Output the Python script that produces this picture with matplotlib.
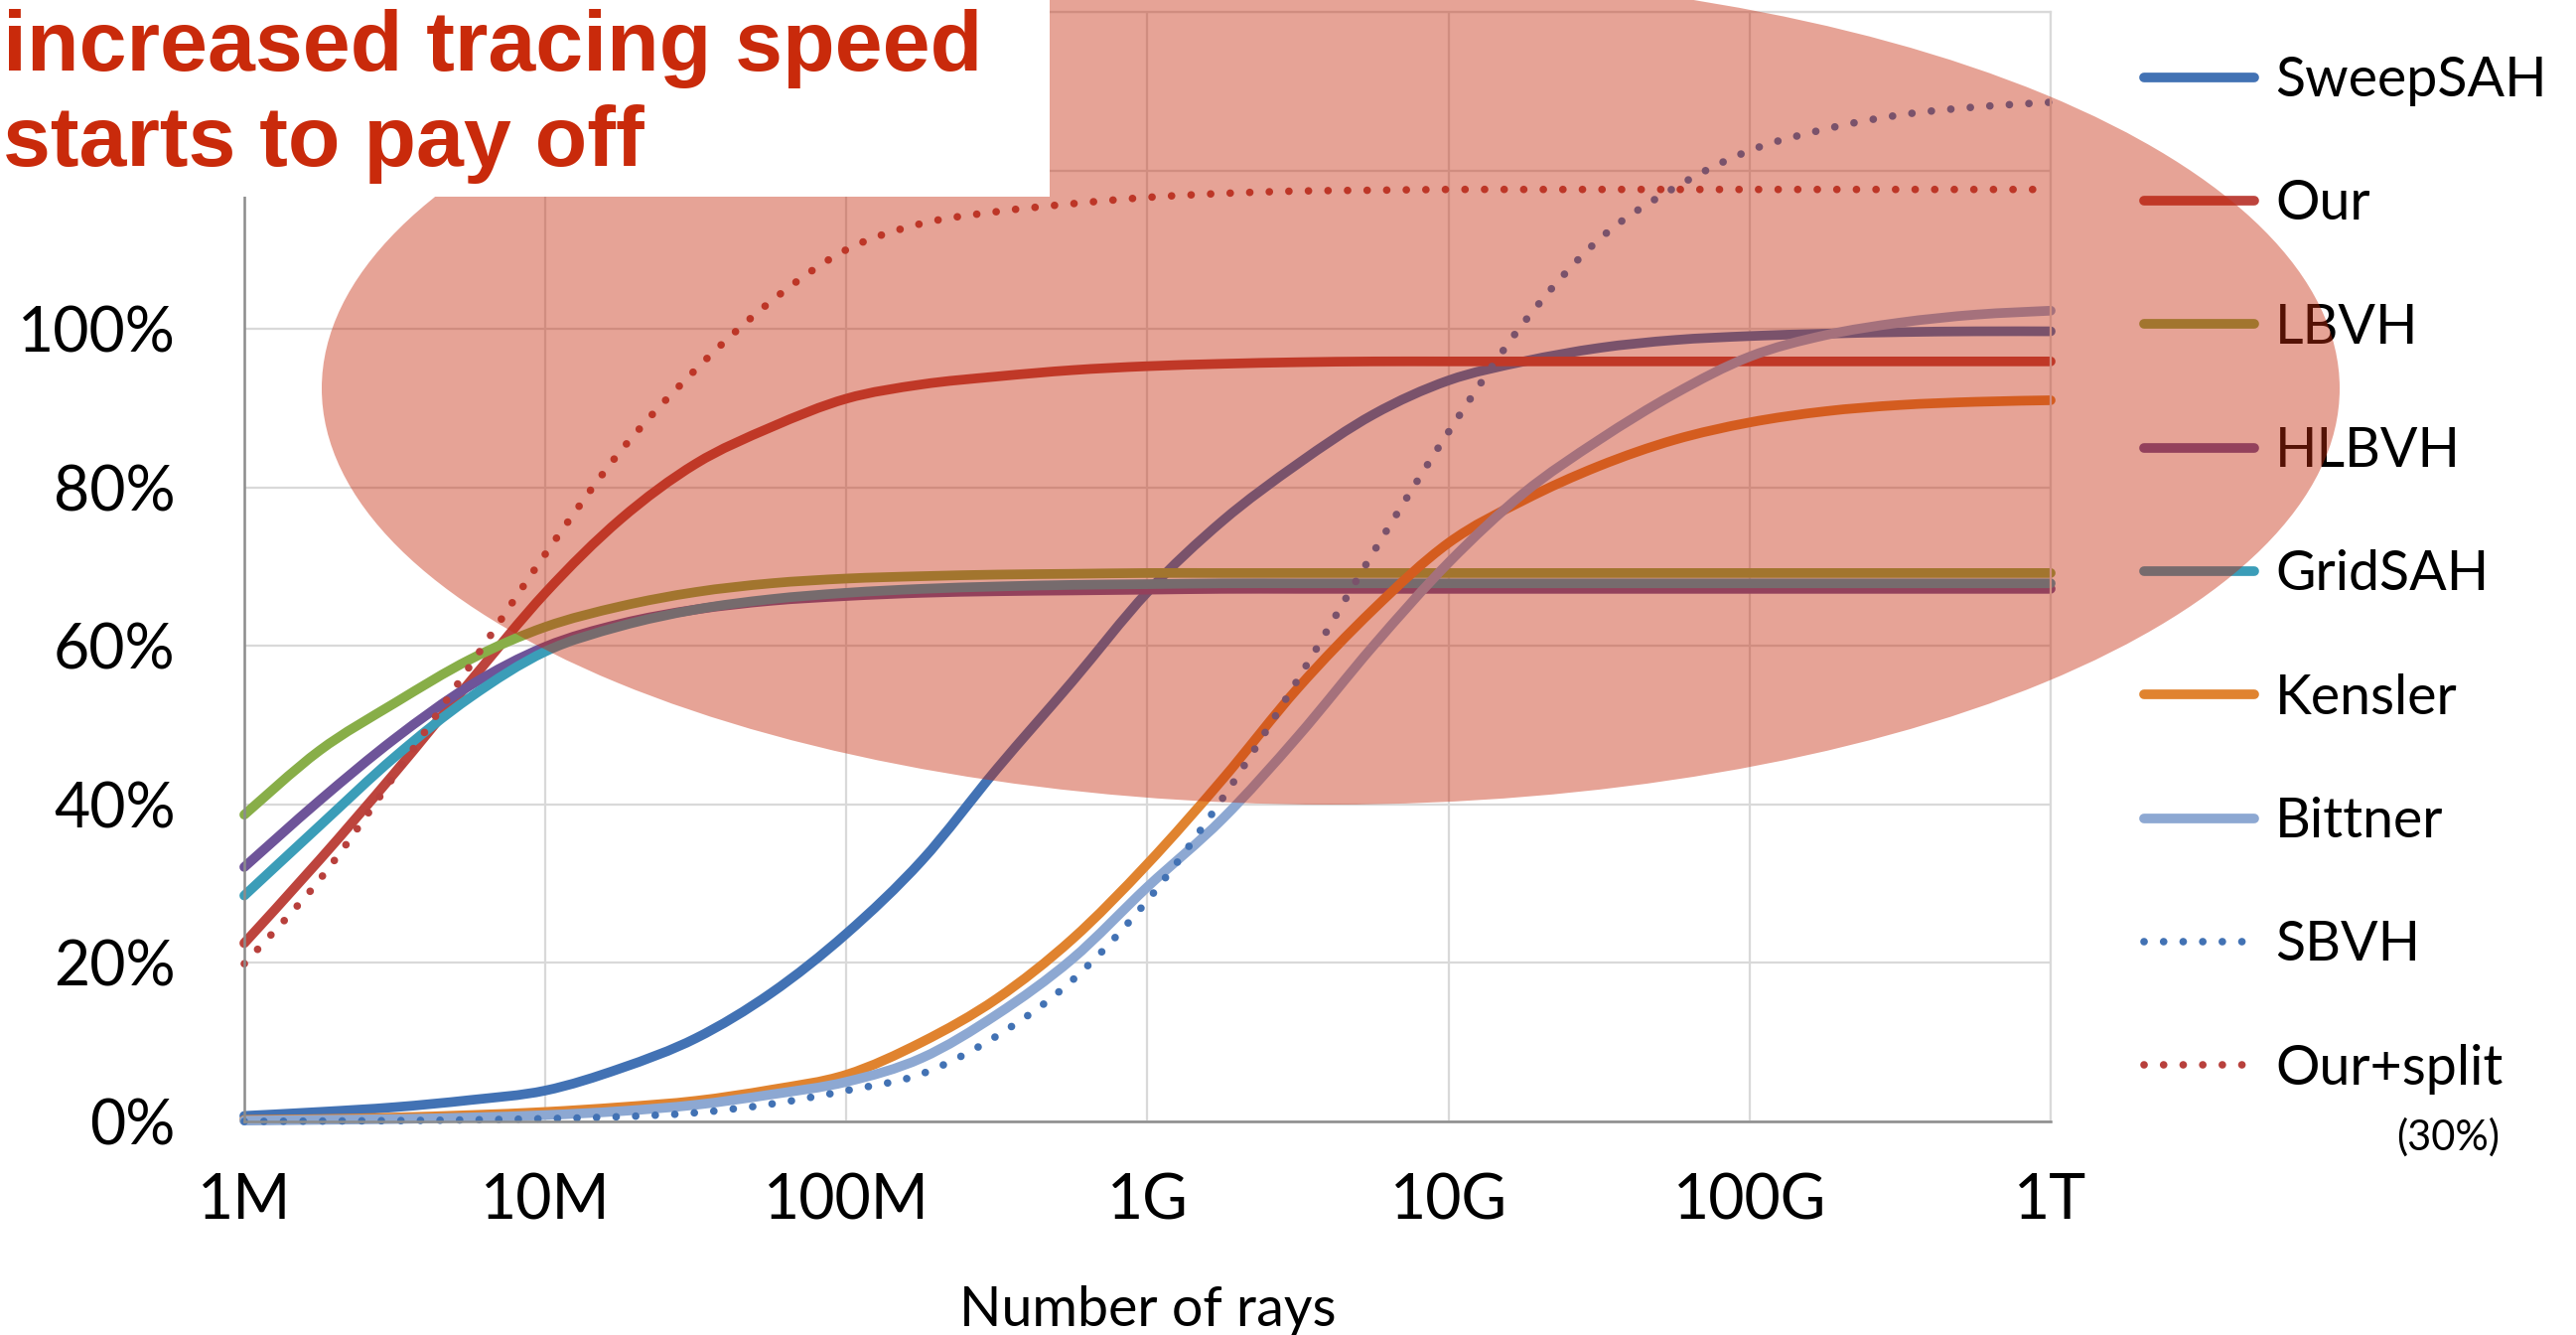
import matplotlib.pyplot as plt
from matplotlib.patches import Ellipse, Rectangle, PathPatch
from matplotlib.path import Path
from matplotlib.lines import Line2D

plt.rcParams['font.family'] = ['Lato', 'DejaVu Sans']

# sample positions (log10 of number of rays)
exps = [6.0, 6.25, 6.5, 6.75, 7.0, 7.25, 7.5, 7.75, 8.0, 8.25, 8.5, 8.75,
        9.0, 9.25, 9.5, 9.75, 10.0, 10.25, 10.5, 10.75, 11.0, 11.25, 11.5, 11.75, 12.0]

# values in percent
sweepsah = [0.7, 1.2, 1.8, 2.7, 3.9, 6.7, 10.5, 16.2, 23.7, 32.9, 44.5, 55.5,
            66.8, 75.8, 83.0, 89.2, 93.5, 95.9, 97.6, 98.6, 99.1, 99.4, 99.6, 99.7, 99.7]
our = [22.5, 33.0, 44.0, 55.5, 66.7, 76.0, 83.0, 87.6, 91.2, 93.0, 94.0, 94.8,
       95.3, 95.6, 95.8, 95.9, 95.9, 95.9, 95.9, 95.9, 95.9, 95.9, 95.9, 95.9, 95.9]
lbvh = [38.7, 46.8, 52.8, 58.3, 62.4, 65.0, 66.8, 67.9, 68.5, 68.8, 69.0, 69.1,
        69.2, 69.2, 69.2, 69.2, 69.2, 69.2, 69.2, 69.2, 69.2, 69.2, 69.2, 69.2, 69.2]
hlbvh = [32.1, 40.5, 48.3, 55.0, 59.9, 62.8, 64.6, 65.7, 66.3, 66.7, 66.9, 67.0,
         67.1, 67.2, 67.2, 67.2, 67.2, 67.2, 67.2, 67.2, 67.2, 67.2, 67.2, 67.2, 67.2]
gridsah = [28.5, 37.3, 46.0, 53.5, 59.3, 62.5, 64.6, 65.9, 66.7, 67.2, 67.5, 67.7,
           67.8, 67.9, 67.9, 67.9, 67.9, 67.9, 67.9, 67.9, 67.9, 67.9, 67.9, 67.9, 67.9]
kensler = [0.2, 0.3, 0.5, 0.8, 1.2, 1.8, 2.6, 4.0, 5.9, 10.0, 15.5, 23.0,
           32.5, 43.2, 54.7, 64.6, 73.0, 78.4, 82.7, 86.0, 88.2, 89.6, 90.4, 90.8, 91.0]
bittner = [0.1, 0.2, 0.3, 0.5, 0.8, 1.3, 2.1, 3.4, 5.0, 8.0, 13.5, 20.5,
           29.6, 38.2, 48.6, 60.0, 70.5, 79.3, 86.0, 91.8, 96.5, 99.2, 100.8, 101.8, 102.3]
sbvh = [0.0, 0.05, 0.1, 0.2, 0.35, 0.6, 1.1, 2.2, 3.9, 6.0, 10.8, 17.8,
        27.9, 40.8, 55.8, 71.8, 87.0, 100.8, 111.3, 117.8, 122.5, 125.2, 127.0, 128.0, 128.6]
our_split = [19.9, 30.5, 43.7, 57.5, 71.6, 84.6, 94.9, 103.5, 110.0, 113.3, 114.8, 115.8,
             116.6, 117.1, 117.4, 117.5, 117.6, 117.6, 117.6, 117.6, 117.6, 117.6, 117.6, 117.6, 117.6]

tick_exps = [6, 7, 8, 9, 10, 11, 12]
tick_labels = ['1M', '10M', '100M', '1G', '10G', '100G', '1T']
y_ticks = [0, 20, 40, 60, 80, 100, 120, 140]
y_labels = ['0%', '20%', '40%', '60%', '80%', '100%', '', '']

series = [
    ('SweepSAH', sweepsah, '#4272B4', False),
    ('Our', our, '#BD443D', False),
    ('LBVH', lbvh, '#88AE48', False),
    ('HLBVH', hlbvh, '#6E5499', False),
    ('GridSAH', gridsah, '#3B9DB8', False),
    ('Kensler', kensler, '#E0832F', False),
    ('Bittner', bittner, '#8DA8D2', False),
    ('SBVH', sbvh, '#4272B4', True),
    ('Our+split', our_split, '#B8403C', True),
]

DOTS = (0, (0.01, 2.57))


def smooth_path(xs, ys):
    # Excel style "smoothed line": catmull-rom segments as cubic beziers
    pts = list(zip(xs, ys))
    n = len(pts)
    verts = [pts[0]]
    codes = [Path.MOVETO]
    for i in range(n - 1):
        p0 = pts[max(i - 1, 0)]
        p1 = pts[i]
        p2 = pts[i + 1]
        p3 = pts[min(i + 2, n - 1)]
        c1 = (p1[0] + (p2[0] - p0[0]) / 6, p1[1] + (p2[1] - p0[1]) / 6)
        c2 = (p2[0] - (p3[0] - p1[0]) / 6, p2[1] - (p3[1] - p1[1]) / 6)
        verts += [c1, c2, p2]
        codes += [Path.CURVE4] * 3
    return Path(verts, codes)


W, H = 2594, 1344
fig = plt.figure(figsize=(W / 100, H / 100), dpi=100)
ax = fig.add_axes([246 / W, 1 - 1129 / H, (2065 - 246) / W, (1129 - 12) / H])

handles = []
for name, vals, col, dotted in series:
    if dotted:
        patch = PathPatch(smooth_path(exps, vals), facecolor='none', edgecolor=col,
                          lw=5.5, linestyle=DOTS, capstyle='round', clip_on=False)
        h = Line2D([], [], color=col, lw=5.5, linestyle=DOTS, dash_capstyle='round')
    else:
        patch = PathPatch(smooth_path(exps, vals), facecolor='none', edgecolor=col,
                          lw=7, capstyle='round', joinstyle='round', clip_on=False)
        h = Line2D([], [], color=col, lw=7, solid_capstyle='round')
    ax.add_patch(patch)
    handles.append(h)

ax.set_xlim(6, 12)
ax.set_ylim(0, 140)
ax.set_xticks(tick_exps)
ax.set_xticklabels(tick_labels)
ax.set_yticks(y_ticks)
ax.set_yticklabels(y_labels)
ax.tick_params(axis='both', length=0, labelsize=45)
ax.tick_params(axis='x', pad=37)
ax.tick_params(axis='y', pad=50)

ax.grid(True, color='#D9D9D9', lw=1.6)
ax.set_axisbelow(True)
for side in ['top', 'right']:
    ax.spines[side].set_color('#D9D9D9')
    ax.spines[side].set_linewidth(1.6)
for side in ['left', 'bottom']:
    ax.spines[side].set_color('#8C8C8C')
    ax.spines[side].set_linewidth(1.8)

ax.set_xlabel('Number of rays', fontsize=40, labelpad=40)

ax.legend(handles, [s[0] for s in series], loc='upper left',
          bbox_to_anchor=(2159 / W, 1 - 56 / H), bbox_transform=fig.transFigure,
          frameon=False, borderpad=0, borderaxespad=0, handlelength=2.0,
          handletextpad=0.38, labelspacing=1.32, fontsize=40)
fig.text(2465 / W, 1 - 1145 / H, '(30%)', ha='center', va='center', fontsize=30)

# highlight ellipse over the plateau region
ell = Ellipse((1340 / W, 1 - 391 / H), 2032 / W, 838 / H, transform=fig.transFigure,
              facecolor='#C52A0C', edgecolor='none', alpha=0.43, zorder=5)
fig.add_artist(ell)

# white callout box with the note
box = Rectangle((0, 1 - 198 / H), 1057 / W, 198 / H, transform=fig.transFigure,
                facecolor='white', edgecolor='none', zorder=6)
fig.add_artist(box)
fig.text(3 / W, 1 - 71 / H, 'increased tracing speed', fontsize=62, fontweight='bold',
         family='Liberation Sans', color='#C92A0B', va='baseline', zorder=7)
fig.text(3 / W, 1 - 167 / H, 'starts to pay off', fontsize=62, fontweight='bold',
         family='Liberation Sans', color='#C92A0B', va='baseline', zorder=7)

fig.savefig('out.png', dpi=100)
